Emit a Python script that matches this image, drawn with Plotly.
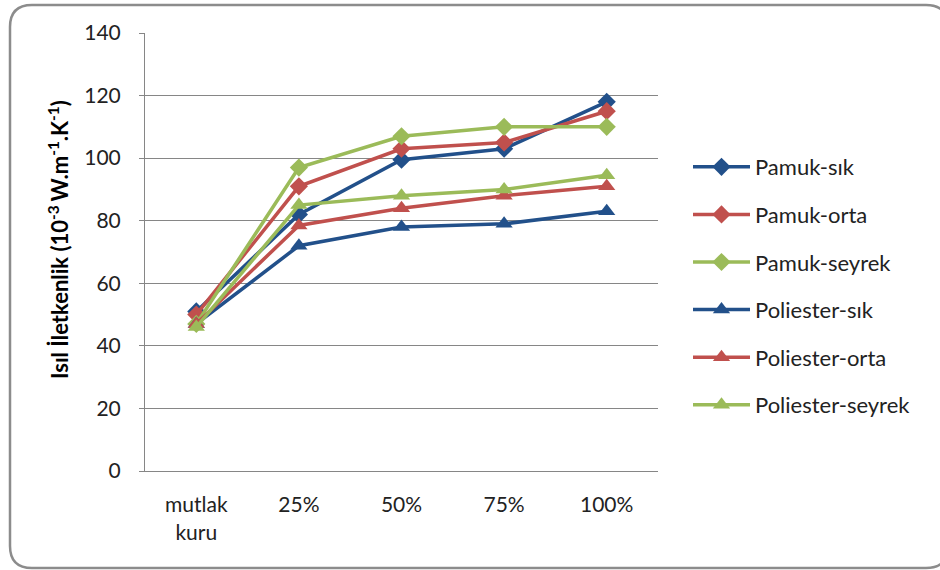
import plotly.graph_objects as go

# Moisture levels on the x axis
categories = ["mutlak<br>kuru", "25%", "50%", "75%", "100%"]

# Thermal conductivity values (10^-3 W.m^-1.K^-1)
pamuk_sik = [51, 82, 99.5, 103, 118]
pamuk_orta = [50, 91, 103, 105, 115]
pamuk_seyrek = [47, 97, 107, 110, 110]
poliester_sik = [47, 72, 78, 79, 83]
poliester_orta = [47, 78.5, 84, 88, 91]
poliester_seyrek = [46, 85, 88, 90, 94.5]

y_ticks = [0, 20, 40, 60, 80, 100, 120, 140]

BLUE = "#22508A"
RED = "#C0504D"
GREEN = "#9BBB59"

series = [
    ("Pamuk-sık", pamuk_sik, BLUE, "diamond"),
    ("Pamuk-orta", pamuk_orta, RED, "diamond"),
    ("Pamuk-seyrek", pamuk_seyrek, GREEN, "diamond"),
    ("Poliester-sık", poliester_sik, BLUE, "triangle-up"),
    ("Poliester-orta", poliester_orta, RED, "triangle-up"),
    ("Poliester-seyrek", poliester_seyrek, GREEN, "triangle-up"),
]

fig = go.Figure()
for i, (name, vals, color, sym) in enumerate(series):
    fig.add_trace(go.Scatter(
        x=categories, y=vals, name=name, mode="lines+markers",
        line=dict(color=color, width=3.5),
        marker=dict(symbol=sym, size=14 if sym == "diamond" else 15, color=color),
        legendgroup=f"g{i}",
    ))

# Plot-area geometry in pixels (940 x 570 page)
W, H = 940, 570
L, R, T, B = 145, 282, 33, 99
pw, ph = W - L - R, H - T - B


def px_to_paper(x, y):
    return (x - L) / pw, (H - B - y) / ph


def rounded_rect(x0, y0, x1, y1, r):
    def P(x, y):
        a, b = px_to_paper(x, y)
        return f"{a},{b}"
    path = f"M {P(x0 + r, y0)}"
    path += f" L {P(x1 - r, y0)} Q {P(x1, y0)} {P(x1, y0 + r)}"
    path += f" L {P(x1, y1 - r)} Q {P(x1, y1)} {P(x1 - r, y1)}"
    path += f" L {P(x0 + r, y1)} Q {P(x0, y1)} {P(x0, y1 - r)}"
    path += f" L {P(x0, y0 + r)} Q {P(x0, y0)} {P(x0 + r, y0)} Z"
    return path


fig.add_shape(
    type="path", xref="paper", yref="paper", layer="below",
    path=rounded_rect(10, 5, 948, 568, 22),
    line=dict(color="#8C8C8C", width=2.5),
)

FAMILY = "Lato, 'Open Sans', sans-serif"
ax_font = dict(family=FAMILY, size=21, color="#222222")
leg_font = dict(family=FAMILY, size=22, color="#222222")

fig.add_annotation(
    xref="paper", yref="paper",
    x=(58 - L) / pw, y=(H - B - 240) / ph,
    xanchor="center", yanchor="middle",
    text="<b>Isıl İletkenlik (10<sup>-3 </sup>W.m<sup>-1</sup>.K<sup>-1</sup>)</b>",
    textangle=-90, showarrow=False,
    font=dict(family=FAMILY, size=22, color="#000000"),
)

fig.update_layout(
    width=W, height=H,
    margin=dict(l=L, r=R, t=T, b=B, pad=0),
    paper_bgcolor="white", plot_bgcolor="white",
    showlegend=True,
    legend=dict(
        x=(688 - L) / pw, y=(H - B - 146) / ph, xanchor="left", yanchor="top",
        font=leg_font, traceorder="grouped", tracegroupgap=16,
        itemwidth=57, bgcolor="rgba(0,0,0,0)",
    ),
    xaxis=dict(
        type="category", showgrid=False, showline=True, linecolor="#868686",
        linewidth=1, ticks="", tickfont=ax_font, range=[-0.5, 4.5],
        ticklabelstandoff=15,
    ),
    yaxis=dict(
        range=[0, 140], tickvals=y_ticks, showgrid=True, gridcolor="#868686",
        gridwidth=1, showline=True, linecolor="#868686", linewidth=1,
        ticks="outside", ticklen=5, tickcolor="#868686", tickfont=ax_font,
        zeroline=False, ticklabelstandoff=14,
    ),
)

fig.write_html("out.html")
